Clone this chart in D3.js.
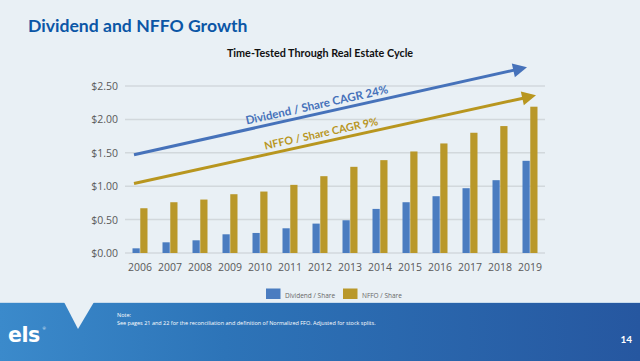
<!DOCTYPE html>
<html>
<head>
<meta charset="utf-8">
<script src="https://cdn.jsdelivr.net/npm/d3@7"></script>
<style>
  html, body { margin: 0; padding: 0; background: #e9f0f5; }
  svg { display: block; }
</style>
</head>
<body>
<svg id="chart" width="640" height="361"></svg>
<script>
// Data
var years = [2006, 2007, 2008, 2009, 2010, 2011, 2012, 2013, 2014, 2015, 2016, 2017, 2018, 2019];
var dividendPerShare = [0.07, 0.16, 0.19, 0.28, 0.30, 0.37, 0.44, 0.49, 0.66, 0.76, 0.85, 0.97, 1.09, 1.38];
var nffoPerShare = [0.67, 0.76, 0.80, 0.88, 0.92, 1.02, 1.15, 1.29, 1.39, 1.52, 1.64, 1.80, 1.90, 2.19];
var seriesNames = ["Dividend / Share", "NFFO / Share"];
var yTicks = [0, 0.5, 1.0, 1.5, 2.0, 2.5];
// Trend arrows: [year index, value] for start and tip
var trendDividend = [[-0.2, 1.47], [12.9, 2.78]];
var trendNffo = [[-0.2, 1.04], [13.2, 2.36]];
var trendLabels = ["Dividend / Share CAGR 24%", "NFFO / Share CAGR 9%"];

var colors = { div: "#4a7cc0", nffo: "#b9982a", divLine: "#4672ba", nffoLine: "#b8961f" };
var font = "Lato, 'Open Sans', sans-serif";

var svg = d3.select("#chart");

svg.append("rect").attr("width", 640).attr("height", 361).attr("fill", "#e9f0f5");

// Title
svg.append("text")
    .attr("x", 28).attr("y", 32)
    .attr("font-family", font).attr("font-weight", 700).attr("font-size", 17.6)
    .attr("fill", "#0b56a6")
    .text("Dividend and NFFO Growth");

svg.append("text")
    .attr("x", 320).attr("y", 57)
    .attr("text-anchor", "middle")
    .attr("font-family", font).attr("font-weight", 700).attr("font-size", 10.8)
    .attr("fill", "#111")
    .text("Time-Tested Through Real Estate Cycle");

// Scales
var x = d3.scaleBand().domain(years).range([125, 545]).paddingInner(0.5).paddingOuter(0.25);
var xs = d3.scaleBand().domain(seriesNames).range([0, x.bandwidth()]).paddingInner(0.07);
var xi = d3.scaleLinear().domain([0, years.length - 1])
    .range([x(years[0]) + x.bandwidth() / 2, x(years[years.length - 1]) + x.bandwidth() / 2]);
var y = d3.scaleLinear().domain([0, 2.5]).range([253, 86]);

// Grid
svg.append("g").selectAll("line").data(yTicks).join("line")
    .attr("x1", 125).attr("x2", 545)
    .attr("y1", function(d) { return y(d); }).attr("y2", function(d) { return y(d); })
    .attr("stroke", "#d2d8dc").attr("stroke-width", 1.5);

// Y axis labels
svg.append("g").selectAll("text").data(yTicks).join("text")
    .attr("x", 118).attr("y", function(d) { return y(d) + 4; })
    .attr("text-anchor", "end")
    .attr("font-family", "'Open Sans', sans-serif").attr("font-size", 10.5)
    .attr("fill", "#595959")
    .text(function(d) { return "$" + d.toFixed(2); });

// X axis labels
svg.append("g").selectAll("text").data(years).join("text")
    .attr("x", function(d) { return x(d) + x.bandwidth() / 2; }).attr("y", 271)
    .attr("text-anchor", "middle")
    .attr("font-family", "'Open Sans', sans-serif").attr("font-size", 10.5)
    .attr("fill", "#595959")
    .text(function(d) { return d; });

// Bars
var rows = years.map(function(yr, i) {
    return { year: yr, values: [dividendPerShare[i], nffoPerShare[i]] };
});
var barColors = [colors.div, colors.nffo];
var groups = svg.append("g").selectAll("g").data(rows).join("g")
    .attr("transform", function(d) { return "translate(" + x(d.year) + ",0)"; });
groups.selectAll("rect").data(function(d) {
    return d.values.map(function(v, k) { return { name: seriesNames[k], v: v, k: k }; });
}).join("rect")
    .attr("x", function(d) { return xs(d.name); })
    .attr("width", xs.bandwidth())
    .attr("y", function(d) { return y(d.v); })
    .attr("height", function(d) { return y(0) - y(d.v); })
    .attr("fill", function(d) { return barColors[d.k]; });

// Trend arrows with labels
function drawArrow(pts, color, label, labelAt, offset, size) {
    var x0 = xi(pts[0][0]), y0 = y(pts[0][1]);
    var x1 = xi(pts[1][0]), y1 = y(pts[1][1]);
    var dx = x1 - x0, dy = y1 - y0, len = Math.sqrt(dx * dx + dy * dy);
    var ux = dx / len, uy = dy / len;
    var headLen = 14, headHalf = 7;
    var bx = x1 - ux * headLen, by = y1 - uy * headLen;
    svg.append("line")
        .attr("x1", x0).attr("y1", y0)
        .attr("x2", bx + ux * 2).attr("y2", by + uy * 2)
        .attr("stroke", color).attr("stroke-width", 3);
    svg.append("path")
        .attr("d", "M" + x1 + "," + y1 +
                   "L" + (bx - uy * headHalf) + "," + (by + ux * headHalf) +
                   "L" + (bx + uy * headHalf) + "," + (by - ux * headHalf) + "Z")
        .attr("fill", color);
    // label sits along the line
    var lx = x0 + dx * labelAt, ly = y0 + dy * labelAt;
    var angle = Math.atan2(dy, dx) * 180 / Math.PI;
    svg.append("text")
        .attr("transform", "translate(" + (lx + uy * offset) + "," + (ly - ux * offset) + ") rotate(" + angle + ")")
        .attr("text-anchor", "middle")
        .attr("font-family", font).attr("font-weight", 700).attr("font-size", size)
        .attr("fill", color)
        .text(label);
}
drawArrow(trendDividend, colors.divLine, trendLabels[0], 0.47, 5, 11.5);
drawArrow(trendNffo, colors.nffoLine, trendLabels[1], 0.47, 5, 10.8);

// Legend
var legend = svg.append("g").selectAll("g").data(seriesNames).join("g")
    .attr("transform", function(d, i) { return "translate(" + (266 + i * 77) + ",288.5)"; });
legend.append("rect").attr("width", 14.5).attr("height", 10.5)
    .attr("fill", function(d, i) { return barColors[i]; });
legend.append("text").attr("x", 19).attr("y", 9)
    .attr("font-family", "'Open Sans', sans-serif").attr("font-size", 6.5)
    .attr("fill", "#666")
    .text(function(d) { return d; });

// Footer band
var defs = svg.append("defs");
var grad = defs.append("linearGradient").attr("id", "band").attr("x1", 0).attr("x2", 1).attr("y1", 0).attr("y2", 0);
grad.append("stop").attr("offset", 0).attr("stop-color", "#3b8acb");
grad.append("stop").attr("offset", 0.35).attr("stop-color", "#2d74b8");
grad.append("stop").attr("offset", 1).attr("stop-color", "#2657a0");
svg.append("rect").attr("x", 0).attr("y", 302).attr("width", 640).attr("height", 59).attr("fill", "url(#band)");
svg.append("line").attr("x1", 0).attr("x2", 640).attr("y1", 302.5).attr("y2", 302.5)
    .attr("stroke", "#c9dcec").attr("stroke-width", 1);
svg.append("path").attr("d", "M64,302L94,302L78,329Z").attr("fill", "#e9f0f5");

svg.append("text").attr("x", 8).attr("y", 342)
    .attr("font-family", "'DejaVu Sans', sans-serif").attr("font-weight", 700).attr("font-size", 20.5)
    .attr("letter-spacing", -0.5)
    .attr("fill", "#fff").text("els");
svg.append("text").attr("x", 42.5).attr("y", 330)
    .attr("font-family", font).attr("font-size", 4)
    .attr("fill", "#fff").text("®");

svg.append("text").attr("x", 117).attr("y", 317)
    .attr("font-family", "'Open Sans', sans-serif").attr("font-size", 5.5)
    .attr("fill", "#fff").text("Note:");
svg.append("text").attr("x", 117).attr("y", 324.5)
    .attr("font-family", "'Open Sans', sans-serif").attr("font-size", 5.5)
    .attr("fill", "#fff")
    .text("See pages 21 and 22 for the reconciliation and definition of Normalized FFO. Adjusted for stock splits.");

svg.append("text").attr("x", 632).attr("y", 343)
    .attr("text-anchor", "end")
    .attr("font-family", font).attr("font-weight", 700).attr("font-size", 10)
    .attr("fill", "#fff").text("14");
</script>
</body>
</html>
